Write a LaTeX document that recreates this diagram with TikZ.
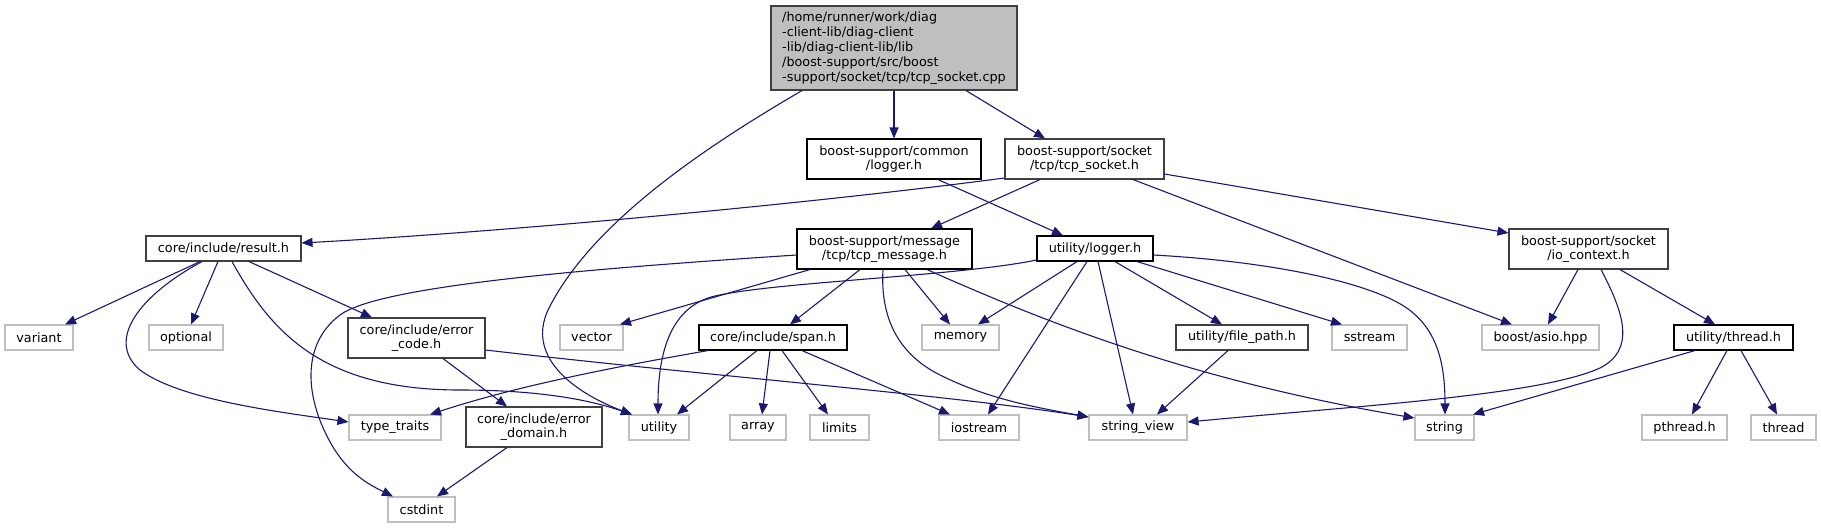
\documentclass[tikz,border=0pt]{standalone}
\usepackage{fontspec}
\setmainfont{DejaVu Sans}
\usetikzlibrary{arrows.meta}
\definecolor{edgec}{HTML}{191970}
\definecolor{rootfill}{HTML}{BFBFBF}
\definecolor{dgrey}{HTML}{404040}
\definecolor{lgrey}{HTML}{BFBFBF}
\begin{document}
\begin{tikzpicture}[x=1pt,y=-1pt,
  font=\fontsize{12.8}{14.3}\selectfont,
  box/.style={draw, line width=1.1pt, inner sep=0pt, align=center, fill=white},
  doc/.style={box, draw=black},
  docg/.style={box, draw=dgrey},
  ext/.style={box, draw=lgrey, minimum height=25pt},
  rootn/.style={box, draw=dgrey, fill=rootfill},
  one/.style={minimum height=25pt},
  two/.style={minimum height=40pt},
  edge/.style={draw=edgec, line width=1.1pt, -{Triangle[length=11pt,width=9pt]}}]
\useasboundingbox (0,0) rectangle (1821,528);

% nodes
\node[rootn, minimum width=246pt, minimum height=84pt, align=left, font=\fontsize{12.8}{15}\selectfont] (root) at (894,48)
  {/home/runner/work/diag\\-client-lib/diag-client\\-lib/diag-client-lib/lib\\/boost-support/src/boost\\-support/socket/tcp/tcp\_socket.cpp};
\node[doc, two, minimum width=174pt] (common) at (894,159) {boost-support/common\\/logger.h};
\node[docg, two, minimum width=159pt] (tcpsock) at (1084.5,159) {boost-support/socket\\/tcp/tcp\_socket.h};
\node[docg, one, minimum width=155pt] (result) at (223.5,248.5) {core/include/result.h};
\node[doc, two, minimum width=175pt] (tcpmsg) at (884.5,249) {boost-support/message\\/tcp/tcp\_message.h};
\node[doc, one, minimum width=116pt] (ulogger) at (1095,248.5) {utility/logger.h};
\node[docg, two, minimum width=159pt] (ioctx) at (1588.5,249) {boost-support/socket\\/io\_context.h};
\node[ext, minimum width=68pt] (variant) at (39,337.5) {variant};
\node[ext, minimum width=74pt] (optional) at (186,337.5) {optional};
\node[docg, two, minimum width=137pt] (errcode) at (416.5,338) {core/include/error\\\_code.h};
\node[ext, minimum width=63pt] (vector) at (591.5,337.5) {vector};
\node[doc, one, minimum width=148pt] (span) at (773,337.5) {core/include/span.h};
\node[ext, minimum width=77pt] (memory) at (960.5,337.5) {memory};
\node[docg, one, minimum width=132pt] (filepath) at (1242,337.5) {utility/file\_path.h};
\node[ext, minimum width=75pt] (sstream) at (1369.5,337.5) {sstream};
\node[ext, minimum width=117pt] (asio) at (1540.5,337.5) {boost/asio.hpp};
\node[doc, one, minimum width=119pt] (threadh) at (1733.5,337.5) {utility/thread.h};
\node[ext, minimum width=92pt] (typetraits) at (395,427.5) {type\_traits};
\node[docg, two, minimum width=136pt] (errdomain) at (534,427) {core/include/error\\\_domain.h};
\node[ext, minimum width=60pt] (utility) at (659,427.5) {utility};
\node[ext, minimum width=56pt] (array) at (758,427.5) {array};
\node[ext, minimum width=59pt] (limits) at (839.5,427.5) {limits};
\node[ext, minimum width=80pt] (iostream) at (979,427.5) {iostream};
\node[ext, minimum width=98pt] (stringview) at (1138,427.5) {string\_view};
\node[ext, minimum width=59pt] (string) at (1444.5,427.5) {string};
\node[ext, minimum width=85pt] (pthread) at (1684.5,427.5) {pthread.h};
\node[ext, minimum width=65pt] (thread) at (1783.5,427.5) {thread};
\node[ext, minimum width=67pt] (cstdint) at (421.5,509.5) {cstdint};

% edges from root
\draw[edge] (802,0 |- root.south) .. controls (700,150) and (590,225) .. (548,310) .. controls (525,360) and (580,395) .. (632,0 |- utility.north);
\draw[edge] (root.south) -- (common.north);
\draw[edge] (966,0 |- root.south) -- (1045,0 |- tcpsock.north);
% common logger
\draw[edge] (938,0 |- common.south) -- (1063,0 |- ulogger.north);
% tcp_socket.h
\draw[edge] (tcpsock.west |- 0,178) .. controls (800,205) and (500,232) .. (result.east |- 0,243);
\draw[edge] (1040,0 |- tcpsock.south) -- (931,0 |- tcpmsg.north);
\draw[edge] (1133,0 |- tcpsock.south) -- (1512,0 |- asio.north);
\draw[edge] (tcpsock.east |- 0,174) -- (ioctx.west |- 0,233);
% result.h
\draw[edge] (200,0 |- result.south) -- (65,0 |- variant.north);
\draw[edge] (218,0 |- result.south) -- (191,0 |- optional.north);
\draw[edge] (202,0 |- result.south) .. controls (140,295) and (105,340) .. (140,370) .. controls (180,400) and (280,412) .. (typetraits.west |- 0,422);
\draw[edge] (232,0 |- result.south) .. controls (270,330) and (320,390) .. (460,390) .. controls (540,390) and (590,400) .. (632,0 |- utility.north);
\draw[edge] (249,0 |- result.south) -- (372,0 |- errcode.north);
% error_code.h
\draw[edge] (443,0 |- errcode.south) -- (507,0 |- errdomain.north);
\draw[edge] (errcode.east |- 0,350) .. controls (700,375) and (950,395) .. (stringview.west |- 0,417);
% error_domain.h
\draw[edge] (507,0 |- errdomain.south) -- (437,0 |- cstdint.north);
% tcp_message.h
\draw[edge] (tcpmsg.west |- 0,255) .. controls (600,268) and (380,285) .. (340,315) .. controls (300,345) and (305,400) .. (333,447) .. controls (350,475) and (370,485) .. (393,0 |- cstdint.north);
\draw[edge] (810,0 |- tcpmsg.south) -- (620,0 |- vector.north);
\draw[edge] (860,0 |- tcpmsg.south) -- (790,0 |- span.north);
\draw[edge] (905,0 |- tcpmsg.south) -- (950,0 |- memory.north);
\draw[edge] (883,0 |- tcpmsg.south) .. controls (880,320) and (900,355) .. (940,375) .. controls (990,400) and (1040,408) .. (stringview.west |- 0,417);
\draw[edge] (927,0 |- tcpmsg.south) .. controls (1045,322) and (1190,380) .. (string.west |- 0,418);
% utility/logger.h
\draw[edge] (ulogger.west |- 0,260) .. controls (960,276) and (775,282) .. (715,296) .. controls (672,306) and (658,350) .. (658,0 |- utility.north);
\draw[edge] (1077,0 |- ulogger.south) -- (978,0 |- memory.north);
\draw[edge] (1087,0 |- ulogger.south) -- (988,0 |- iostream.north);
\draw[edge] (1098,0 |- ulogger.south) -- (1133,0 |- stringview.north);
\draw[edge] (1115,0 |- ulogger.south) -- (1222,0 |- filepath.north);
\draw[edge] (1137,0 |- ulogger.south) -- (1342,0 |- sstream.north);
\draw[edge] (ulogger.east |- 0,255) .. controls (1280,262) and (1380,285) .. (1412,312) .. controls (1440,335) and (1445,370) .. (1445,0 |- string.north);
% span.h
\draw[edge] (708,0 |- span.south) .. controls (620,366) and (520,385) .. (430,0 |- typetraits.north);
\draw[edge] (757,0 |- span.south) -- (677,0 |- utility.north);
\draw[edge] (770,0 |- span.south) -- (762,0 |- array.north);
\draw[edge] (782,0 |- span.south) -- (828,0 |- limits.north);
\draw[edge] (802,0 |- span.south) -- (950,0 |- iostream.north);
% file_path.h
\draw[edge] (1228,0 |- filepath.south) -- (1157,0 |- stringview.north);
% io_context.h
\draw[edge] (1578,0 |- ioctx.south) -- (1548,0 |- asio.north);
\draw[edge] (1601,0 |- ioctx.south) .. controls (1625,315) and (1635,350) .. (1600,368) .. controls (1540,395) and (1370,405) .. (stringview.east |- 0,422);
\draw[edge] (1620,0 |- ioctx.south) -- (1715,0 |- threadh.north);
% thread.h
\draw[edge] (1695,0 |- threadh.south) -- (1473,0 |- string.north);
\draw[edge] (1727,0 |- threadh.south) -- (1692,0 |- pthread.north);
\draw[edge] (1741,0 |- threadh.south) -- (1777,0 |- thread.north);
\end{tikzpicture}
\end{document}
